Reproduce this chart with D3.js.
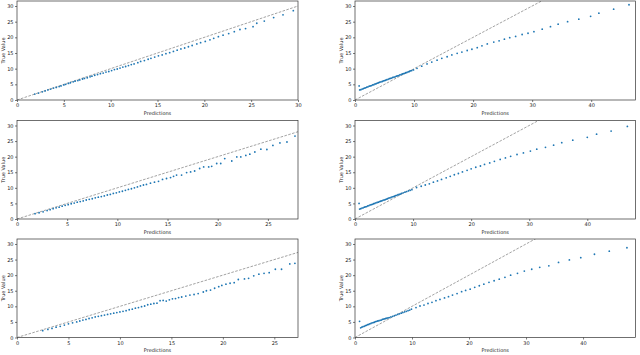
<!DOCTYPE html>
<html>
<head>
<meta charset="utf-8">
<script src="https://cdn.jsdelivr.net/npm/d3@7"></script>
<style>
body { margin: 0; background: #fff; }
svg { display: block; }
.axis text { font-family: "DejaVu Sans", sans-serif; font-size: 5px; fill: #222; }
.axis line { stroke: #222; stroke-width: 0.6; }
.axis path { display: none; }
.label { font-family: "DejaVu Sans", sans-serif; font-size: 5px; fill: #222; }
</style>
</head>
<body>
<script>
// values (predictions vs true value)
var pred1 = [1.9,2.3,2.7,3.0,3.3,3.6,3.9,4.2,4.5,4.7,5.0,5.2,5.5,5.7,6.0,6.2,6.5,6.7,7.0,7.2,7.5,7.8,8.0,8.3,8.6,8.9,9.2,9.5,9.8,10.1,10.4,10.7,11.0,11.3,11.6,11.9,12.2,12.5,12.9,13.2,13.6,14.0,14.3,14.7,15.1,15.5,15.9,16.3,16.7,17.1,17.5,17.9,18.3,18.7,19.2,19.6,20.1,20.6,21.0,21.5,22.0,22.6,23.2,23.8,24.4,25.2,25.6,26.4,27.4,28.4,29.5];
var true1 = [1.9,2.2,2.6,2.9,3.2,3.5,3.8,4.0,4.3,4.5,4.8,5.0,5.3,5.5,5.8,6.0,6.2,6.4,6.7,6.9,7.1,7.4,7.6,7.9,8.1,8.4,8.6,8.9,9.1,9.4,9.7,9.9,10.2,10.5,10.7,11.0,11.3,11.5,11.9,12.3,12.6,13.0,13.3,13.7,14.1,14.4,14.8,15.1,15.5,15.9,16.3,16.6,17.0,17.4,17.9,18.3,18.7,19.2,19.7,20.2,20.7,21.2,21.8,22.5,22.8,23.4,24.5,25.2,26.3,27.2,28.5];

var pred2 = [0.7,0.8,1.0,1.2,1.4,1.6,1.8,2.0,2.2,2.4,2.6,2.8,3.0,3.2,3.4,3.6,3.8,4.0,4.2,4.4,4.6,4.8,5.0,5.2,5.4,5.6,5.8,6.0,6.2,6.4,6.6,6.8,7.0,7.2,7.4,7.6,7.8,8.0,8.2,8.4,8.6,8.8,9.0,9.2,9.4,9.6,9.9,10.5,11.3,12.2,13.0,13.9,14.7,15.6,16.4,17.3,18.1,19.0,19.8,20.7,21.5,22.4,23.5,24.4,25.3,26.2,27.2,28.3,29.3,30.3,31.7,33.1,34.4,36.0,37.9,39.9,41.3,43.8,46.4];
var true2 = [4.5,3.2,3.3,3.5,3.6,3.8,3.9,4.1,4.2,4.4,4.5,4.6,4.8,4.9,5.1,5.2,5.4,5.5,5.7,5.8,5.9,6.1,6.2,6.3,6.5,6.6,6.8,6.9,7.0,7.2,7.3,7.4,7.6,7.7,7.8,8.0,8.1,8.3,8.4,8.5,8.7,8.8,9.0,9.1,9.3,9.4,9.6,10.1,10.8,11.5,12.1,12.7,13.3,13.8,14.4,14.9,15.3,15.8,16.2,16.7,17.3,17.9,18.5,18.9,19.4,19.9,20.3,20.9,21.3,21.8,22.6,23.4,24.2,25.0,25.8,26.7,27.7,29.0,30.4];

var pred3 = [1.8,2.2,2.6,3.0,3.3,3.6,3.9,4.2,4.5,4.8,5.1,5.4,5.7,6.0,6.3,6.6,6.9,7.2,7.5,7.8,8.1,8.4,8.7,9.0,9.3,9.6,9.9,10.2,10.5,10.8,11.1,11.4,11.7,12.0,12.3,12.6,12.9,13.3,13.7,14.1,14.5,14.9,15.3,15.6,15.9,16.4,16.9,17.3,17.7,18.2,18.6,19.1,19.4,19.9,20.3,20.7,21.4,21.9,22.3,22.8,23.2,23.7,24.3,24.9,25.5,26.2,26.9,27.7];
var true3 = [1.7,2.0,2.3,2.7,3.0,3.3,3.6,3.8,4.1,4.4,4.6,4.9,5.1,5.4,5.6,5.8,6.1,6.3,6.5,6.8,7.0,7.2,7.4,7.7,7.9,8.2,8.4,8.7,8.9,9.2,9.5,9.7,10.0,10.3,10.6,10.9,11.1,11.5,11.8,12.1,12.7,13.0,13.3,13.7,14.1,14.1,14.9,15.1,15.4,16.2,16.7,16.7,16.9,17.8,17.8,19.4,18.6,19.9,19.9,20.4,20.8,21.5,22.4,22.3,23.6,24.4,24.7,26.6];

var pred4 = [0.7,0.8,1.0,1.2,1.4,1.6,1.8,2.0,2.2,2.4,2.6,2.8,3.0,3.2,3.4,3.6,3.8,4.0,4.2,4.4,4.6,4.8,5.0,5.2,5.4,5.6,5.8,6.0,6.2,6.4,6.6,6.8,7.0,7.2,7.4,7.6,7.8,8.0,8.3,8.6,8.9,9.2,9.5,9.8,10.6,11.4,12.1,12.8,13.5,14.2,14.9,15.7,16.4,17.1,17.8,18.5,19.3,20.0,20.8,21.6,22.3,23.2,24.0,25.0,25.9,26.8,27.9,29.0,30.2,31.3,32.8,34.2,35.6,37.5,40.0,41.6,44.1,46.9];
var true4 = [5.0,3.2,3.3,3.5,3.6,3.8,3.9,4.0,4.2,4.3,4.5,4.6,4.7,4.9,5.0,5.2,5.3,5.4,5.6,5.7,5.8,6.0,6.1,6.2,6.4,6.5,6.7,6.8,6.9,7.1,7.2,7.3,7.5,7.6,7.8,7.9,8.0,8.2,8.4,8.6,8.8,9.0,9.2,9.4,10.1,10.5,10.9,11.3,11.8,12.2,12.7,13.2,13.7,14.2,14.6,15.1,15.6,16.1,16.6,17.0,17.5,18.0,18.5,19.1,19.6,20.1,20.7,21.2,21.8,22.4,23.0,23.7,24.5,25.3,26.2,27.2,28.2,29.7];

var pred5 = [2.5,3.0,3.4,3.8,4.2,4.6,5.0,5.4,5.8,6.1,6.4,6.7,7.0,7.3,7.6,7.9,8.2,8.5,8.8,9.1,9.4,9.7,10.0,10.3,10.6,10.9,11.2,11.5,11.8,12.1,12.4,12.7,13.0,13.3,13.6,13.9,14.2,14.5,14.8,15.1,15.4,15.7,16.0,16.4,16.8,17.2,17.6,18.1,18.4,18.8,19.2,19.6,19.9,20.3,20.7,21.1,21.5,22.1,22.5,23.0,23.5,24.0,24.5,25.1,25.7,26.5,27.0];
var true5 = [2.2,2.6,2.9,3.3,3.6,4.0,4.4,4.7,5.0,5.3,5.6,5.8,6.1,6.3,6.6,6.8,7.0,7.2,7.4,7.6,7.8,8.0,8.2,8.4,8.6,8.9,9.1,9.4,9.6,9.9,10.1,10.5,10.7,10.9,11.0,11.8,11.9,11.7,12.1,12.4,12.5,12.8,13.0,13.3,13.6,13.8,14.1,14.6,15.0,15.2,15.8,16.3,16.7,17.1,17.4,17.6,18.6,18.8,19.0,19.8,20.3,20.6,20.8,21.9,21.9,23.6,23.8];

var pred6 = [0.8,1.0,1.2,1.4,1.6,1.8,2.0,2.2,2.4,2.6,2.8,3.0,3.2,3.4,3.6,3.8,4.0,4.2,4.4,4.6,4.8,5.0,5.2,5.4,5.6,5.8,6.0,6.3,6.6,6.9,7.2,7.5,7.8,8.1,8.4,8.7,9.0,9.3,9.6,9.9,10.7,11.4,12.1,12.8,13.5,14.2,14.9,15.7,16.4,17.1,17.9,18.7,19.4,20.2,21.0,21.8,22.6,23.5,24.4,25.3,26.3,27.3,28.5,29.7,31.0,32.4,34.0,35.7,37.6,39.6,42.0,44.6,47.7];
var true6 = [5.2,3.1,3.3,3.5,3.6,3.8,3.9,4.1,4.2,4.4,4.5,4.7,4.8,4.9,5.1,5.2,5.3,5.4,5.5,5.6,5.8,5.9,6.0,6.1,6.2,6.3,6.4,6.6,6.8,7.0,7.2,7.4,7.6,7.8,8.0,8.2,8.4,8.6,8.8,9.1,9.6,10.1,10.4,10.9,11.3,11.8,12.2,12.7,13.1,13.6,14.1,14.7,15.1,15.5,16.1,16.6,17.1,17.7,18.2,18.7,19.3,20.0,20.6,21.3,21.9,22.5,23.0,24.1,24.9,25.6,26.7,27.7,28.8];

var xTicksLeft = [0, 5, 10, 15, 20, 25, 30];
var xTicksRight = [0, 10, 20, 30, 40];
var yTicks = [0, 5, 10, 15, 20, 25, 30];
var xLabel = "Predictions";
var yLabel = "True Value";

var width = 640;
var height = 355;
var yMax = 31.6;

var cols = [{x0: 17, x1: 298}, {x0: 355, x1: 635.5}];
var rows = [{y0: 1, y1: 100}, {y0: 120.5, y1: 219}, {y0: 239, y1: 337.5}];

var panels = [
    {pred: pred1, truth: true1, xMax: 30, ticks: xTicksLeft, col: 0, row: 0},
    {pred: pred2, truth: true2, xMax: 47.5, ticks: xTicksRight, col: 1, row: 0},
    {pred: pred3, truth: true3, xMax: 28.0, ticks: xTicksLeft, col: 0, row: 1},
    {pred: pred4, truth: true4, xMax: 48.3, ticks: xTicksRight, col: 1, row: 1},
    {pred: pred5, truth: true5, xMax: 27.3, ticks: xTicksLeft, col: 0, row: 2},
    {pred: pred6, truth: true6, xMax: 49.2, ticks: xTicksRight, col: 1, row: 2}
];

var svg = d3.select("body").append("svg")
    .attr("width", width)
    .attr("height", height);

panels.forEach(function(p, i) {
    var c = cols[p.col];
    var r = rows[p.row];

    var xScale = d3.scaleLinear()
        .domain([0, p.xMax])
        .range([c.x0, c.x1]);

    var yScale = d3.scaleLinear()
        .domain([0, yMax])
        .range([r.y1, r.y0]);

    var g = svg.append("g");

    g.append("clipPath")
        .attr("id", "clip" + i)
        .append("rect")
        .attr("x", c.x0)
        .attr("y", r.y0)
        .attr("width", c.x1 - c.x0)
        .attr("height", r.y1 - r.y0);

    var plot = g.append("g").attr("clip-path", "url(#clip" + i + ")");

    // reference line y = x
    plot.append("line")
        .attr("x1", xScale(0))
        .attr("y1", yScale(0))
        .attr("x2", xScale(60))
        .attr("y2", yScale(60))
        .attr("stroke", "#8c8c8c")
        .attr("stroke-width", 0.8)
        .attr("stroke-dasharray", "2.6,1.4");

    plot.selectAll("circle")
        .data(d3.zip(p.pred, p.truth))
        .join("circle")
        .attr("cx", function(d) { return xScale(d[0]); })
        .attr("cy", function(d) { return yScale(d[1]); })
        .attr("r", 0.9)
        .attr("fill", "#1f77b4");

    var xt = p.ticks.filter(function(t) { return t <= p.xMax; });

    g.append("g")
        .attr("class", "axis")
        .attr("transform", "translate(0," + r.y1 + ")")
        .call(d3.axisBottom(xScale).tickValues(xt).tickSize(2).tickPadding(1.5));

    g.append("g")
        .attr("class", "axis")
        .attr("transform", "translate(" + c.x0 + ",0)")
        .call(d3.axisLeft(yScale).tickValues(yTicks).tickSize(2).tickPadding(1.5));

    g.append("rect")
        .attr("x", c.x0)
        .attr("y", r.y0)
        .attr("width", c.x1 - c.x0)
        .attr("height", r.y1 - r.y0)
        .attr("fill", "none")
        .attr("stroke", "#333")
        .attr("stroke-width", 0.7);

    g.append("text")
        .attr("class", "label")
        .attr("x", (c.x0 + c.x1) / 2)
        .attr("y", r.y1 + 14.5)
        .attr("text-anchor", "middle")
        .text(xLabel);

    g.append("text")
        .attr("class", "label")
        .attr("transform", "translate(" + (c.x0 - 12.5) + "," + ((r.y0 + r.y1) / 2) + ") rotate(-90)")
        .attr("text-anchor", "middle")
        .text(yLabel);
});
</script>
</body>
</html>
